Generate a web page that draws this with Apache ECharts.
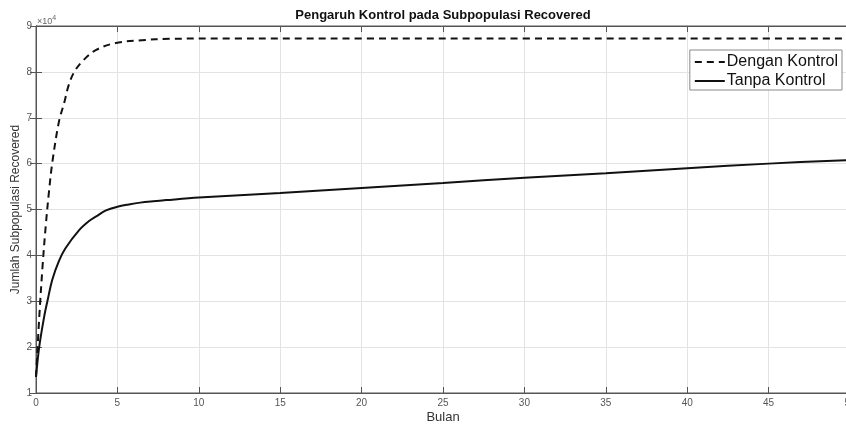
<!DOCTYPE html>
<html>
<head>
<meta charset="utf-8">
<script src="https://cdn.jsdelivr.net/npm/echarts@6/dist/echarts.min.js"></script>
<style>
  html, body { margin: 0; padding: 0; background: #fff; }
  #chart { width: 846px; height: 425px; }
</style>
</head>
<body>
<div id="chart"></div>
<script>
  // waktu (bulan) dan jumlah subpopulasi recovered
  var bulanDengan = [0, 0.2, 0.4, 0.6, 0.8, 1.0, 1.4, 1.75, 2.0, 2.35, 2.9, 3.7, 4.9, 6.5, 8.2, 12, 20, 30, 40, 50];
  var denganKontrol = [13500, 26500, 37500, 46500, 54000, 60200, 69000, 73500, 77000, 80000, 82500, 84800, 86300, 86900, 87200, 87300, 87300, 87300, 87300, 87300];

  var bulanTanpa = [0, 0.2, 0.5, 0.7, 1.0, 1.4, 1.8, 2.65, 3.3, 3.7, 4.3, 5.0, 5.7, 6.4, 7.2, 8.0, 10, 15, 20, 25, 30, 35, 40, 45, 50];
  var tanpaKontrol = [13500, 20100, 26600, 30000, 34700, 38700, 41500, 45500, 47600, 48500, 49800, 50600, 51100, 51500, 51800, 52050, 52600, 53600, 54700, 55800, 56900, 57900, 59000, 60000, 60800];

  var yTicks = [10000, 20000, 30000, 40000, 50000, 60000, 70000, 80000, 90000];

  function pairs(xs, ys) {
    var out = [];
    for (var i = 0; i < xs.length; i++) {
      out.push([xs[i], ys[i]]);
    }
    return out;
  }

  var font = 'Liberation Sans, Arial, sans-serif';
  var chart = echarts.init(document.getElementById('chart'));

  var option = {
    animation: false,
    backgroundColor: '#fff',
    title: {
      text: 'Pengaruh Kontrol pada Subpopulasi Recovered',
      left: 443,
      top: 9,
      padding: 0,
      textAlign: 'center',
      textStyle: { fontFamily: font, fontSize: 13, fontWeight: 'bold', color: '#111' }
    },
    graphic: [{
      type: 'text',
      left: 37,
      top: 15,
      style: {
        text: '×10{s|4}',
        rich: { s: { fontSize: 7, verticalAlign: 'top', padding: [0, 0, 6, 0], fill: '#666' } },
        font: '9px ' + font,
        fill: '#666'
      }
    }],
    legend: {
      orient: 'vertical',
      right: 4,
      top: 50,
      padding: [4, 4, 1, 4],
      itemGap: 3,
      itemWidth: 30,
      itemHeight: 14,
      backgroundColor: '#fff',
      borderColor: '#8a8a8a',
      borderWidth: 1,
      borderRadius: 0,
      itemStyle: { opacity: 0 },
      textStyle: { fontFamily: font, fontSize: 16, color: '#111', padding: [0, 0, 0, -3] },
      data: ['Dengan Kontrol', 'Tanpa Kontrol']
    },
    grid: {
      left: 36,
      right: -4,
      top: 26,
      bottom: 32,
      containLabel: false,
      outerBoundsMode: 'none',
      show: true,
      borderColor: '#555',
      borderWidth: 1
    },
    xAxis: [{
      type: 'value',
      min: 0,
      max: 50,
      interval: 5,
      name: 'Bulan',
      nameLocation: 'middle',
      nameGap: 18,
      nameMoveOverlap: false,
      nameTextStyle: { fontFamily: font, fontSize: 13, color: '#333' },
      axisLine: { lineStyle: { color: '#555' } },
      axisTick: { inside: true, length: 6, lineStyle: { color: '#555' } },
      axisLabel: { fontFamily: font, fontSize: 10, color: '#555', margin: 5 },
      splitLine: { show: true, lineStyle: { color: '#e3e3e3' } }
    }, {
      type: 'value',
      position: 'top',
      min: 0,
      max: 50,
      interval: 5,
      axisLine: { show: true, lineStyle: { color: '#555' } },
      axisTick: { inside: true, length: 6, lineStyle: { color: '#555' } },
      axisLabel: { show: false },
      splitLine: { show: false }
    }],
    yAxis: [{
      type: 'value',
      min: yTicks[0],
      max: yTicks[yTicks.length - 1],
      interval: 10000,
      name: 'Jumlah Subpopulasi Recovered',
      nameLocation: 'middle',
      nameGap: 14,
      nameMoveOverlap: false,
      nameTextStyle: { fontFamily: font, fontSize: 12, color: '#333' },
      axisLine: { show: true, lineStyle: { color: '#555' } },
      axisTick: { show: true, inside: true, length: 6, lineStyle: { color: '#555' } },
      axisLabel: {
        fontFamily: font, fontSize: 10, color: '#555', margin: 4,
        formatter: function (v) { return String(v / 10000); }
      },
      splitLine: { show: true, lineStyle: { color: '#e3e3e3' } }
    }, {
      type: 'value',
      position: 'right',
      min: yTicks[0],
      max: yTicks[yTicks.length - 1],
      interval: 10000,
      axisLine: { show: true, lineStyle: { color: '#555' } },
      axisTick: { show: true, inside: true, length: 6, lineStyle: { color: '#555' } },
      axisLabel: { show: false },
      splitLine: { show: false }
    }],
    series: [{
      name: 'Dengan Kontrol',
      type: 'line',
      data: pairs(bulanDengan, denganKontrol),
      smooth: 0.35,
      symbol: 'none',
      lineStyle: { color: '#111', width: 2, type: [7, 5] },
      itemStyle: { color: '#111' }
    }, {
      name: 'Tanpa Kontrol',
      type: 'line',
      data: pairs(bulanTanpa, tanpaKontrol),
      smooth: 0.35,
      symbol: 'none',
      lineStyle: { color: '#111', width: 2 },
      itemStyle: { color: '#111' }
    }]
  };

  chart.setOption(option);
</script>
</body>
</html>
